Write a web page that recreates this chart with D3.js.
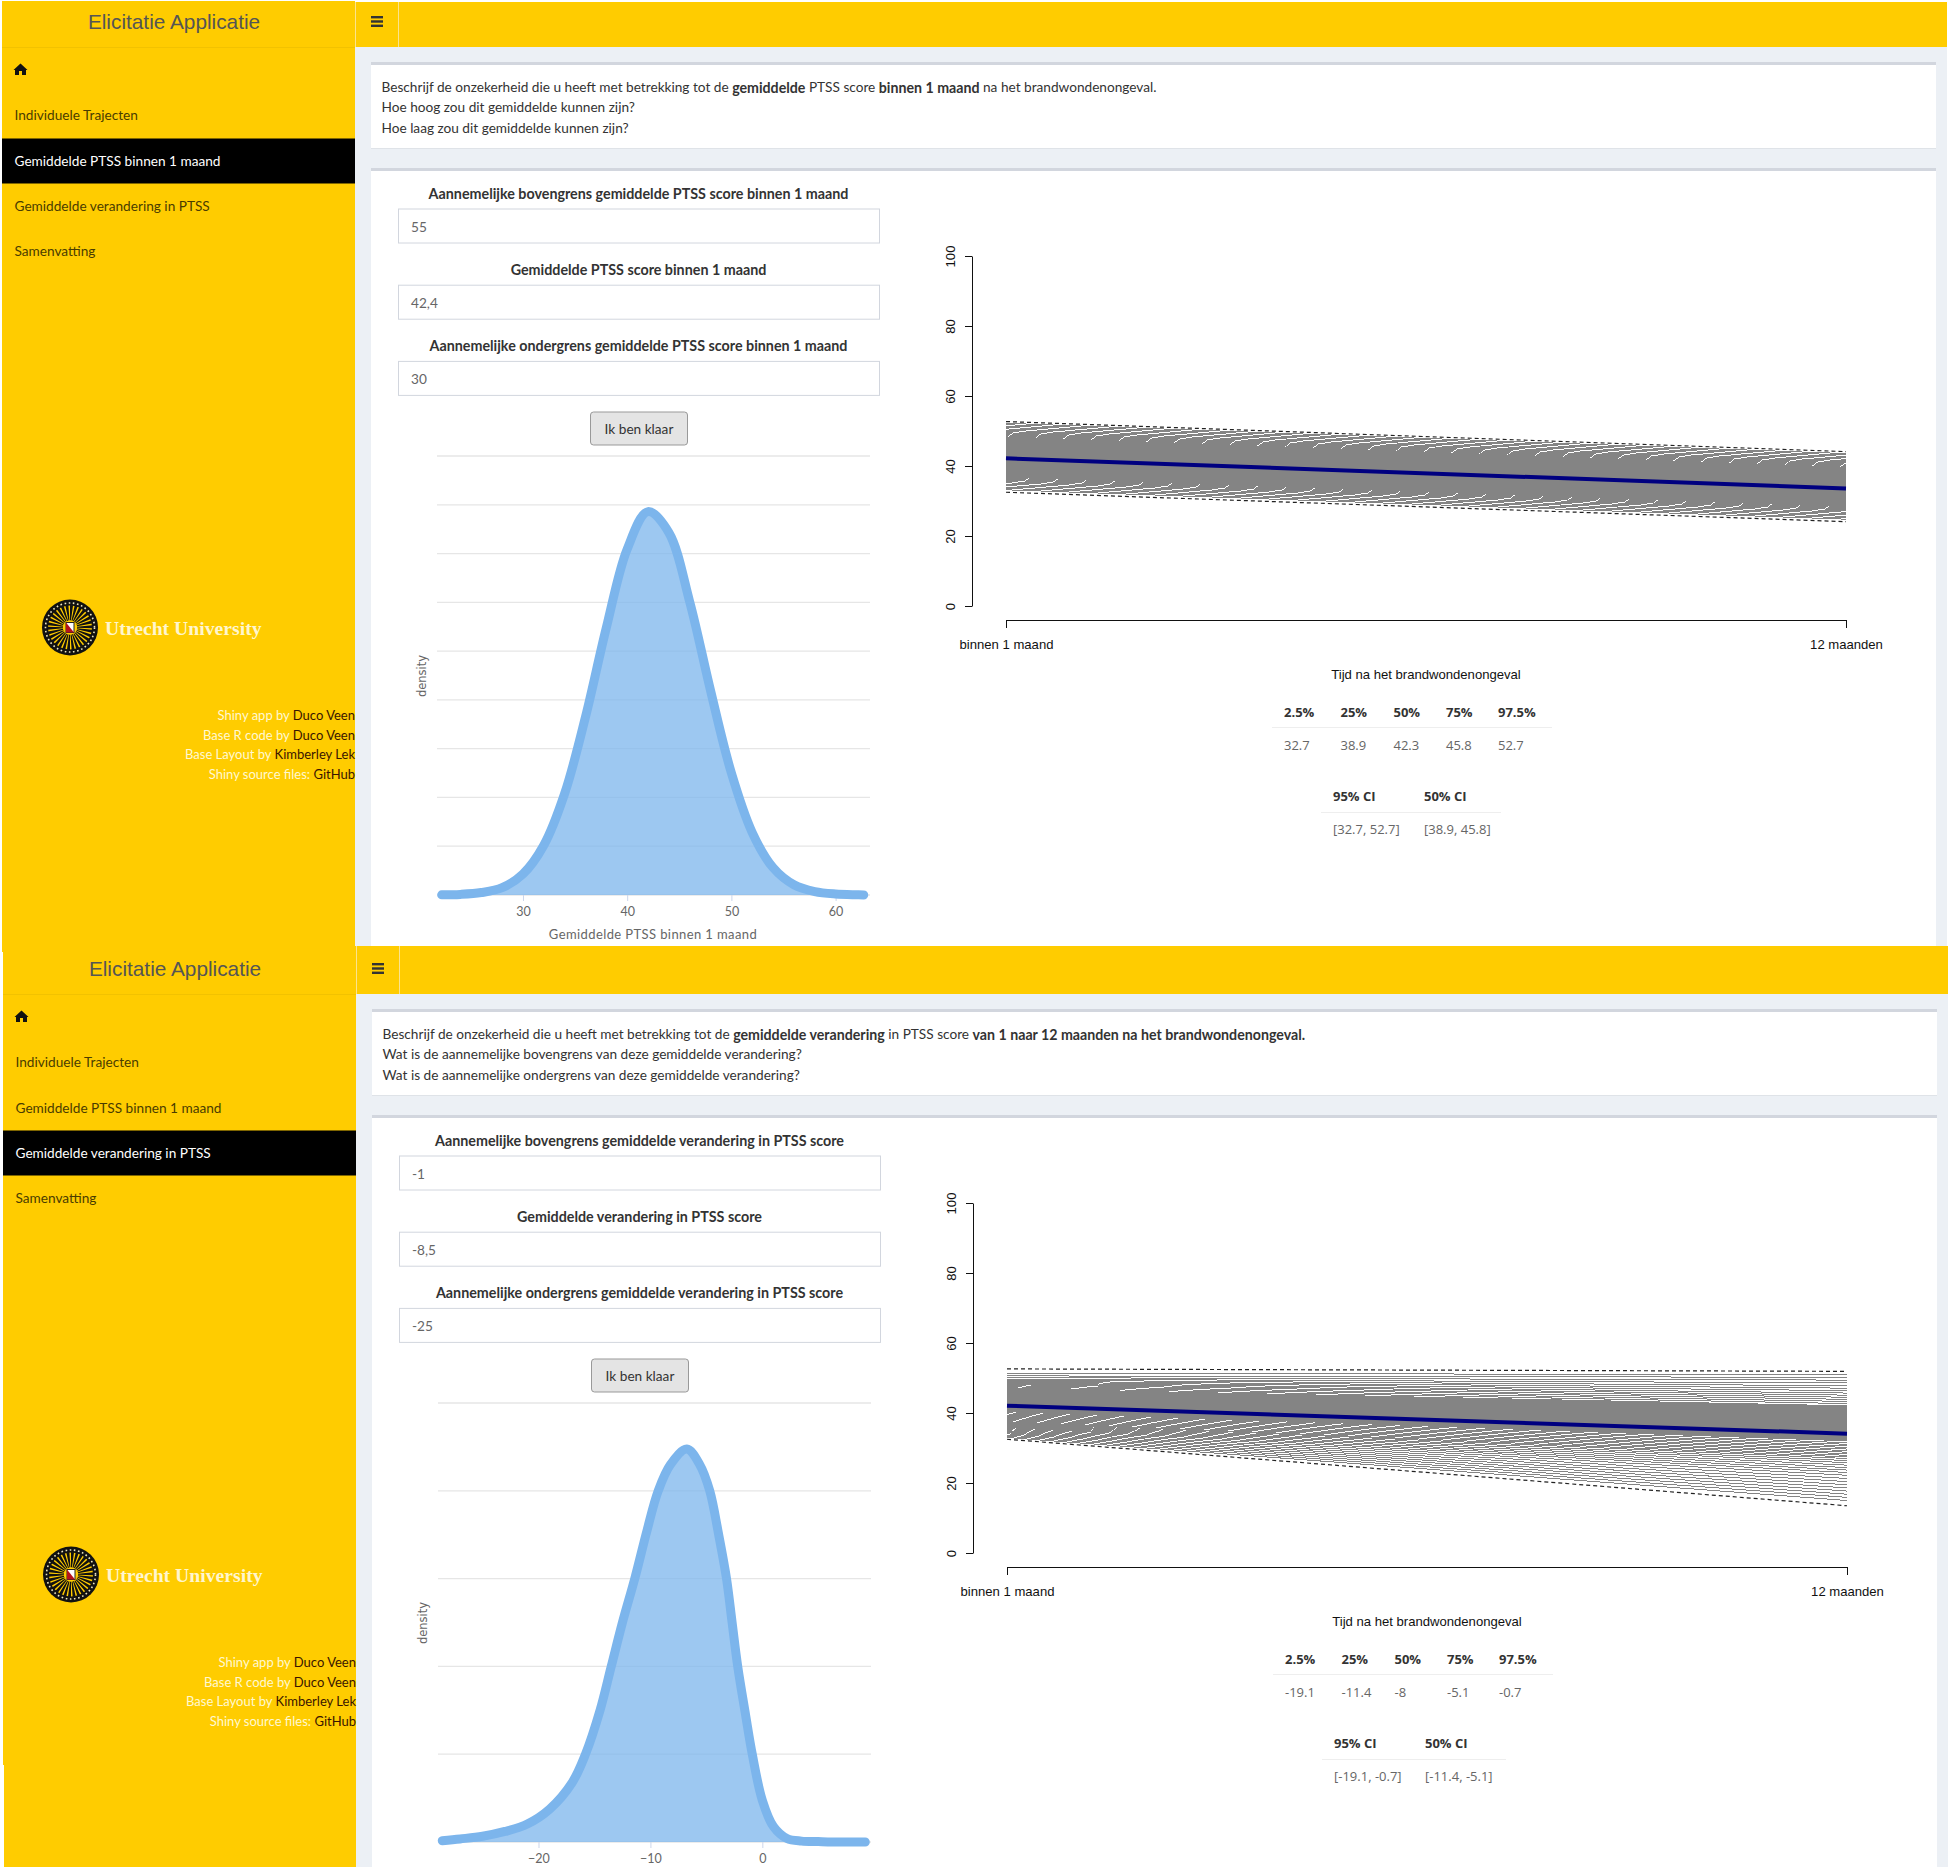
<!DOCTYPE html>
<html>
<head>
<meta charset="utf-8">
<script src="https://cdn.jsdelivr.net/npm/d3@7"></script>
<style>
  html, body { margin: 0; background: #fff; }
  svg { display: block; }
  text { font-family: Lato, "Noto Sans", sans-serif; font-size: 13.65px; fill: #333; dominant-baseline: central; }
  .r text, text.r { font-family: "Liberation Sans", sans-serif; fill: #111; font-size: 13.1px; }
  .hc text { font-family: Lato, sans-serif; font-size: 12.5px; fill: #666; }
  text.tbl { font-family: "Open Sans", sans-serif; font-size: 13px; }
</style>
</head>
<body>
<svg id="chart" width="1950" height="1870"></svg>
<script>
const menuItems = ["Individuele Trajecten", "Gemiddelde PTSS binnen 1 maand", "Gemiddelde verandering in PTSS", "Samenvatting"];
const footerLines = [["Shiny app by ", "Duco Veen"], ["Base R code by ", "Duco Veen"], ["Base Layout by ", "Kimberley Lek"], ["Shiny source files: ", "GitHub"]];
const timeLabels = ["binnen 1 maand", "12 maanden"];
const scoreTicks = [0, 20, 40, 60, 80, 100];
const quantileHeads = ["2.5%", "25%", "50%", "75%", "97.5%"];
const ciHeads = ["95% CI", "50% CI"];

// page 1: gemiddelde PTSS binnen 1 maand
const intro1 = [
  [["Beschrijf de onzekerheid die u heeft met betrekking tot de ", 0], ["gemiddelde", 1], [" PTSS score ", 0], ["binnen 1 maand", 1], [" na het brandwondenongeval.", 0]],
  [["Hoe hoog zou dit gemiddelde kunnen zijn?", 0]],
  [["Hoe laag zou dit gemiddelde kunnen zijn?", 0]]
];
const inputLabels1 = ["Aannemelijke bovengrens gemiddelde PTSS score binnen 1 maand", "Gemiddelde PTSS score binnen 1 maand", "Aannemelijke ondergrens gemiddelde PTSS score binnen 1 maand"];
const inputValues1 = ["55", "42,4", "30"];
const densX1 = [22.2, 24, 26, 28, 30, 32, 34, 36, 38, 40, 42, 44, 46, 48, 50, 52, 54, 56, 58, 60, 62, 62.7];
const densY1 = [0.00003, 0.00012, 0.0005, 0.0015, 0.0043, 0.0102, 0.0208, 0.0365, 0.0548, 0.0709, 0.0786, 0.0743, 0.0601, 0.0419, 0.025, 0.0128, 0.0056, 0.0021, 0.0007, 0.0002, 0.00005, 0.00002];
const densGrid1 = [0, 0.01, 0.02, 0.03, 0.04, 0.05, 0.06, 0.07, 0.08, 0.09];
const densTicks1 = [30, 40, 50, 60];
const mean1 = [42.2, 33.6];
const upper1 = [52.7, 44.1];
const lower1 = [32.5, 24.1];
const fanStart1 = [33.2, 33.6, 34.0, 34.4, 34.8, 35.2, 35.55, 35.9, 36.2, 36.5, 36.8, 37.05, 37.3, 37.55, 37.8, 38.05, 38.3, 38.55, 38.8, 39.05, 39.3, 39.55, 39.8, 40.05, 40.3, 40.55, 40.8, 41.05, 41.3, 41.55, 41.8, 42.05, 42.3, 42.55, 42.8, 43.05, 43.3, 43.55, 43.8, 44.05, 44.3, 44.55, 44.8, 45.05, 45.3, 45.55, 45.8, 46.05, 46.3, 46.55, 46.8, 47.05, 47.3, 47.55, 47.8, 48.05, 48.3, 48.6, 48.9, 49.2, 49.5, 49.85, 50.2, 50.6, 51.0, 51.4, 51.8, 52.2];
const fanEnd1 = [24.8, 25.2, 25.6, 26.0, 26.4, 26.8, 27.15, 27.5, 27.8, 28.1, 28.4, 28.65, 28.9, 29.15, 29.4, 29.6, 29.85, 30.1, 30.35, 30.6, 30.85, 31.1, 31.35, 31.6, 31.8, 32.05, 32.3, 32.55, 32.8, 33.05, 33.3, 33.55, 33.8, 34.05, 34.25, 34.5, 34.75, 35.0, 35.25, 35.5, 35.75, 36.0, 36.25, 36.5, 36.7, 36.95, 37.2, 37.45, 37.7, 37.95, 38.2, 38.45, 38.7, 38.95, 39.2, 39.4, 39.65, 39.95, 40.25, 40.55, 40.85, 41.2, 41.55, 41.95, 42.35, 42.75, 43.15, 43.55];
const quantiles1 = ["32.7", "38.9", "42.3", "45.8", "52.7"];
const ci1 = ["[32.7, 52.7]", "[38.9, 45.8]"];

// page 2: gemiddelde verandering in PTSS
const intro2 = [
  [["Beschrijf de onzekerheid die u heeft met betrekking tot de ", 0], ["gemiddelde verandering", 1], [" in PTSS score ", 0], ["van 1 naar 12 maanden na het brandwondenongeval.", 1]],
  [["Wat is de aannemelijke bovengrens van deze gemiddelde verandering?", 0]],
  [["Wat is de aannemelijke ondergrens van deze gemiddelde verandering?", 0]]
];
const inputLabels2 = ["Aannemelijke bovengrens gemiddelde verandering in PTSS score", "Gemiddelde verandering in PTSS score", "Aannemelijke ondergrens gemiddelde verandering in PTSS score"];
const inputValues2 = ["-1", "-8,5", "-25"];
const densX2 = [-28.6, -27, -25, -23, -21, -19, -17, -15.8, -14.5, -13.5, -12.5, -11.4, -10.3, -9.3, -8.2, -6.75, -5.6, -4.7, -3.9, -3.2, -2.7, -2.2, -1.5, -0.9, 0, 1, 2.2, 3.5, 5, 7, 9.2];
const densY2 = [0.0003, 0.0007, 0.0013, 0.0024, 0.0041, 0.0075, 0.0135, 0.02, 0.03, 0.04, 0.05, 0.06, 0.071, 0.08, 0.086, 0.0895, 0.086, 0.08, 0.07, 0.06, 0.05, 0.04, 0.029, 0.02, 0.0095, 0.0035, 0.0008, 0.0002, 0.0001, 0, 0];
const densGrid2 = [0, 0.02, 0.04, 0.06, 0.08, 0.1];
const densTicks2 = [-20, -10, 0];
const mean2 = [42.1, 34.1];
const upper2 = [52.6, 51.9];
const lower2 = [32.5, 13.5];
const fanStart2 = [33.0, 33.35, 33.7, 34.05, 34.35, 34.65, 34.95, 35.25, 35.55, 35.85, 36.1, 36.35, 36.6, 36.85, 37.1, 37.35,
  37.5, 37.82, 38.14, 38.46, 38.78, 39.1, 39.42, 39.74, 40.06, 40.38,
  40.54, 40.7, 40.86, 41.02, 41.18, 41.34, 41.5, 41.66, 41.82, 41.98, 42.14, 42.3, 42.46, 42.62, 42.78, 42.94, 43.1, 43.26, 43.42, 43.58, 43.74, 43.9, 44.06, 44.22, 44.38, 44.54, 44.7, 44.86, 45.02, 45.18, 45.34, 45.5, 45.66, 45.82, 45.98, 46.14, 46.3, 46.46, 46.62, 46.78, 46.94,
  47.2, 47.5, 47.8, 48.1, 48.35, 48.6, 48.85, 49.1, 49.4, 49.7, 50.1, 50.6, 51.3];
const fanEnd2 = [15.0, 15.9, 16.8, 17.7, 18.6, 19.5, 20.4, 21.3, 22.2, 23.0, 23.7, 24.4, 25.1, 25.8, 26.4, 27.0,
  27.45, 27.9, 28.35, 28.8, 29.25, 29.7, 30.15, 30.6, 31.05, 31.5,
  32.05, 32.3, 32.55, 32.8, 33.05, 33.3, 33.55, 33.8, 34.05, 34.3, 34.55, 34.8, 35.05, 35.3, 35.55, 35.8, 36.05, 36.3, 36.55, 36.8, 37.05, 37.3, 37.55, 37.8, 38.05, 38.3, 38.55, 38.8, 39.05, 39.3, 39.55, 39.8, 40.05, 40.3, 40.55, 40.8, 41.05, 41.3, 41.55, 41.8, 42.05,
  42.7, 43.3, 43.9, 44.5, 45.1, 45.7, 46.4, 47.1, 47.8, 48.6, 49.4, 50.2, 51.0];
const quantiles2 = ["-19.1", "-11.4", "-8", "-5.1", "-0.7"];
const ci2 = ["[-19.1, -0.7]", "[-11.4, -5.1]"];

const YELLOW = "#ffcc00", BLUE = "#7cb5ec";
const svg = d3.select("#chart");

svg.append("defs").append("filter").attr("id", "soft").attr("filterUnits", "userSpaceOnUse")
  .attr("x", 0).attr("y", 0).attr("width", 1950).attr("height", 1870)
  .append("feGaussianBlur").attr("stdDeviation", 0.78);

function rect(g, x, y, w, h, fill) {
  return g.append("rect").attr("x", x).attr("y", y).attr("width", w).attr("height", h).attr("fill", fill);
}
function label(g, x, y, str, anchor, fill, weight) {
  return g.append("text").attr("x", x).attr("y", y).attr("text-anchor", anchor || "start")
    .style("fill", fill || null).style("font-weight", weight || null).style("font-size", weight ? "14.3px" : null).text(str);
}

function drawSidebar(g, activeIdx, pageHeight) {
  rect(g, 2, -1, 353, pageHeight + 1, YELLOW);
  rect(g, 2, 45, 353, 1, "#f2c200");
  label(g, 174, 19.5, "Elicitatie Applicatie", "middle", "#555").style("font-family", "'Liberation Sans'").style("font-size", "20.8px");
  // home icon
  g.append("path").attr("transform", "translate(20.5,67)")
    .attr("d", "M-7,1 L0,-5.5 L7,1 L5.5,1 L5.5,6 L1.5,6 L1.5,2 L-1.5,2 L-1.5,6 L-5.5,6 L-5.5,1 Z").attr("fill", "#111");
  const rows = [113, 158.5, 203.5, 248.5];
  menuItems.forEach((m, i) => {
    if (i === activeIdx) rect(g, 2, rows[i] - 22, 353, 45, "#000");
    label(g, 14.5, rows[i], m, "start", i === activeIdx ? "#fff" : "#4a3c00");
  });
  // logo
  const logo = g.append("g").attr("transform", "translate(70,625.5)");
  logo.append("circle").attr("r", 28).attr("fill", "#111");
  logo.append("circle").attr("r", 24.5).attr("fill", "none").attr("stroke", "#efe7c0").attr("stroke-width", 1.6).attr("stroke-dasharray", "1.6 2.6");
  logo.append("circle").attr("r", 22).attr("fill", YELLOW);
  logo.selectAll("path.spoke").data(d3.range(30)).join("path").attr("class", "spoke")
    .attr("d", d3.arc().innerRadius(7).outerRadius(22.5)
      .startAngle(d => d / 30 * 2 * Math.PI).endAngle(d => (d + 0.65) / 30 * 2 * Math.PI))
    .attr("fill", "#111");
  logo.append("circle").attr("r", 7).attr("fill", YELLOW);
  rect(logo, -4, -5, 8, 10, "#fff").attr("stroke", "#222");
  logo.append("path").attr("d", "M-4,-5 L4,5 L-4,5 Z").attr("fill", "#b5121b");
  label(g, 105, 625.5, "Utrecht University", "start", "#fff6cf", 700).style("font-family", "'Liberation Serif'").style("font-size", "19.7px");
  // footer
  footerLines.forEach((f, i) => {
    const t = g.append("text").attr("x", 355).attr("y", 713 + i * 19.5).attr("text-anchor", "end").style("font-size", "13px");
    t.append("tspan").style("fill", "#fff8d0").text(f[0]);
    t.append("tspan").style("fill", "#3a1500").text(f[1]);
  });
}

function drawHeader(g, h, iconY) {
  rect(g, 355, 0, 1592, h, YELLOW);
  rect(g, 355, 0, 1, h, "#fbe38e");
  rect(g, 398, 0, 1, h, "#fbe38e");
  [iconY - 5.5, iconY - 1.2, iconY + 3.1].forEach(y => rect(g, 371, y, 12, 2.4, "#333"));
}

function drawPanels(g, intro, inputLabels, inputValues, pageHeight) {
  rect(g, 355, 45, 1592, pageHeight - 45, "#ecf0f5");
  rect(g, 371, 63, 1565, 85, "#fff");
  rect(g, 371, 62, 1565, 3, "#d2d6de");
  rect(g, 371, 148, 1565, 1, "#dfe3e8");
  rect(g, 371, 168, 1565, pageHeight - 168, "#fff");
  rect(g, 371, 168, 1565, 3, "#d2d6de");
  intro.forEach((runs, i) => {
    const t = g.append("text").attr("x", 381.5).attr("y", 86.5 + i * 20.5);
    runs.forEach(r => t.append("tspan").style("font-weight", r[1] ? 700 : 400).style("font-size", r[1] ? "14.2px" : null).text(r[0]));
  });
  inputLabels.forEach((lab, i) => {
    const top = 209 + i * 76.2;
    label(g, 638.5, top - 16, lab, "middle", "#333", 700);
    rect(g, 398.5, top, 481, 34, "#fff").attr("stroke", "#d2d6de");
    label(g, 411, top + 17.5, inputValues[i], "start", "#666");
  });
  rect(g, 590.5, 412, 97, 33, "#e4e4e4").attr("rx", 3).attr("stroke", "#999");
  label(g, 639, 428.5, "Ik ben klaar", "middle", "#333");
}

function drawDensity(g, xs, ys, grid, ticks, domainX, domainY, xTitle) {
  const x = d3.scaleLinear().domain(domainX).range([437, 870]);
  const y = d3.scaleLinear().domain(domainY).range([895, 456]);
  const pts = xs.map((v, i) => [v, ys[i]]);

  g.append("g").selectAll("line").data(grid).join("line")
    .attr("x1", 437).attr("x2", 870).attr("y1", d => y(d)).attr("y2", d => y(d))
    .attr("stroke", "#e6e6e6").attr("stroke-width", 1.3);

  const xAxis = g.append("g").attr("class", "hc").attr("transform", "translate(0,895)")
    .call(d3.axisBottom(x).tickValues(ticks).tickSize(6));
  xAxis.select(".domain").remove();
  xAxis.selectAll("line").attr("stroke", "#ccd6eb");
  xAxis.selectAll("text").attr("y", 16).attr("dy", 0);

  g.append("path").datum(pts).attr("fill", BLUE).attr("fill-opacity", 0.75)
    .attr("d", d3.area().x(d => x(d[0])).y0(y(0)).y1(d => y(d[1])).curve(d3.curveCatmullRom));
  g.append("path").datum(pts).attr("fill", "none").attr("stroke", BLUE).attr("stroke-width", 9)
    .attr("stroke-linecap", "round").attr("stroke-linejoin", "round")
    .attr("d", d3.line().x(d => x(d[0])).y(d => y(d[1])).curve(d3.curveCatmullRom));

  g.append("text").attr("transform", "translate(422,676) rotate(-90)").attr("text-anchor", "middle")
    .style("font-family", "'DejaVu Sans'").style("font-size", "11.5px").style("fill", "#666").text("density");
  if (xTitle) label(g, 653, 934, xTitle, "middle", "#666").style("font-size", "13px").style("letter-spacing", "0.4px");
}

function drawTrajectories(g, fanStart, fanEnd, mean, upper, lower) {
  const x = d3.scalePoint().domain(timeLabels).range([1006, 1846]);
  const y = d3.scaleLinear().domain([0, 100]).range([606, 256]);
  const line = d3.line().x(d => x(d[0])).y(d => y(d[1]));
  const series = vals => timeLabels.map((t, i) => [t, vals[i]]);

  g.append("g").attr("filter", "url(#soft)").selectAll("path").data(fanStart.map((s, i) => [s, fanEnd[i]])).join("path")
    .attr("d", d => line(series(d))).attr("fill", "none").attr("stroke", "#848484").attr("stroke-width", 1)
    .attr("shape-rendering", "crispEdges");
  [upper, lower].forEach(v => {
    g.append("path").attr("d", line(series(v))).attr("fill", "none")
      .attr("stroke", "#222").attr("stroke-width", 1.2).attr("stroke-dasharray", "4 3");
  });
  g.append("path").attr("d", line(series(mean))).attr("fill", "none").attr("stroke", "#000080").attr("stroke-width", 4);

  const yAxis = g.append("g").attr("class", "r").attr("transform", "translate(972,0)")
    .call(d3.axisLeft(y).tickValues(scoreTicks).tickSize(7).tickSizeOuter(0).tickPadding(0));
  yAxis.selectAll("text").attr("x", 0).attr("y", 0).attr("dy", 0).attr("text-anchor", "middle")
    .attr("transform", "translate(-22,0) rotate(-90)");
  const xAxis = g.append("g").attr("class", "r").attr("transform", "translate(0,620)")
    .call(d3.axisBottom(x).tickSize(8).tickSizeOuter(0).tickPadding(0));
  xAxis.selectAll("text").attr("y", 24).attr("dy", 0);
  g.selectAll(".r .domain, .r line").attr("stroke", "#111");

  g.append("text").attr("class", "r").attr("x", 1426).attr("y", 674).attr("text-anchor", "middle").text("Tijd na het brandwondenongeval");
}

function drawTables(g, quantiles, ci, extra) {
  const qx = [1284, 1340.5, 1393.5, 1446, 1498];
  quantileHeads.forEach((h, i) => {
    label(g, qx[i], 712, h, "start", "#333", 700).attr("class", "tbl").style("font-size", null);
    label(g, qx[i], 745, quantiles[i], "start", "#666").attr("class", "tbl");
  });
  rect(g, 1272, 727, 280, 1, "#eee");
  const cx = [1333, 1424];
  ciHeads.forEach((h, i) => {
    label(g, cx[i], 796, h, "start", "#333", 700).attr("class", "tbl").style("font-size", null);
    label(g, cx[i], 829, ci[i], "start", "#666").attr("class", "tbl");
  });
  rect(g, 1321, 812, 180 + extra, 1, "#eee");
}

// first screenshot
const page1 = svg.append("g");
drawPanels(page1, intro1, inputLabels1, inputValues1, 947);
drawHeader(page1.append("g").attr("transform", "translate(0,2)"), 45, 19.5);
drawSidebar(page1.append("g").attr("transform", "translate(0,2)"), 1, 945);
drawDensity(page1, densX1, densY1, densGrid1, densTicks1, [21.75, 63.3], [0, 0.09], "Gemiddelde PTSS binnen 1 maand");
drawTrajectories(page1, fanStart1, fanEnd1, mean1, upper1, lower1);
drawTables(page1, quantiles1, ci1, 0);

// second screenshot, pasted under the first one
const page2 = svg.append("g").attr("transform", "translate(1,947)");
drawPanels(page2, intro2, inputLabels2, inputValues2, 920);
drawHeader(page2.append("g").attr("transform", "translate(0,-1)"), 48, 22.5);
rect(page2, 1, -1, 354, 6, YELLOW);
drawSidebar(page2.append("g").attr("transform", "translate(0,2)"), 2, 918);
drawDensity(page2, densX2, densY2, densGrid2, densTicks2, [-28.98, 9.71], [0, 0.1], null);
drawTrajectories(page2, fanStart2, fanEnd2, mean2, upper2, lower2);
drawTables(page2, quantiles2, ci2, 4);

rect(svg, 0, 1765, 4, 105, "#fff");
rect(svg, 0, 1867, 1950, 3, "#fff");
</script>
</body>
</html>
